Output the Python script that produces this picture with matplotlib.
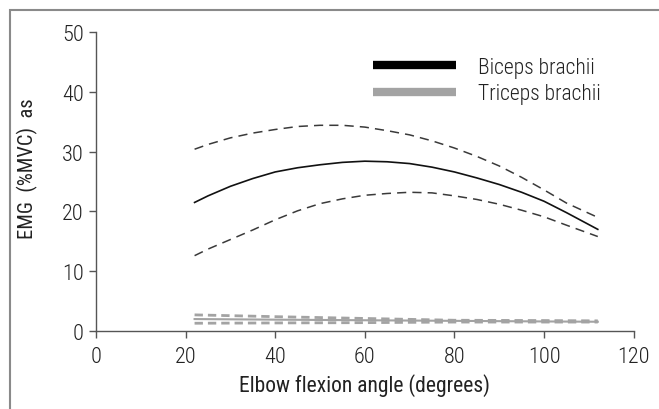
import matplotlib
matplotlib.use("Agg")
import matplotlib.pyplot as plt
from matplotlib.lines import Line2D
from matplotlib.patches import Rectangle

plt.rcParams['font.family'] = ['Roboto Condensed', 'DejaVu Sans']
plt.rcParams['font.weight'] = 'light'

angle = [22, 25, 30, 35, 40, 45, 50, 55, 60, 65, 70, 75, 80, 85, 90, 95, 100, 105, 112]
biceps_mean = [21.5, 22.6, 24.2, 25.5, 26.6, 27.3, 27.8, 28.2, 28.4, 28.3, 28.0, 27.4,
               26.6, 25.6, 24.5, 23.2, 21.7, 19.8, 17.0]
biceps_upper = [30.4, 31.2, 32.3, 33.1, 33.7, 34.2, 34.4, 34.4, 34.1, 33.5, 32.8, 31.8,
                30.6, 29.2, 27.6, 25.7, 23.6, 21.4, 19.0]
biceps_lower = [12.6, 13.7, 15.3, 16.9, 18.6, 20.1, 21.3, 22.1, 22.7, 23.0, 23.2, 23.1,
                22.6, 22.0, 21.2, 20.2, 19.1, 17.7, 15.8]

tri_angle = [22, 40, 60, 80, 100, 112]
triceps_mean = [2.0, 1.9, 1.8, 1.7, 1.6, 1.55]
triceps_upper = [2.7, 2.4, 2.1, 1.8, 1.75, 1.7]
triceps_lower = [1.3, 1.35, 1.4, 1.5, 1.5, 1.5]

xticks = [0, 20, 40, 60, 80, 100, 120]
yticks = [0, 10, 20, 30, 40, 50]
legend_labels = ["Biceps brachii", "Triceps brachii"]

fig = plt.figure(figsize=(6.59, 4.10), dpi=100)
ax = fig.add_axes([0.1457, 0.1902, 0.8158, 0.7293])

tri_col = '#a3a3a3'
ax.plot(tri_angle, triceps_upper, color=tri_col, lw=2, dashes=(3, 1.8))
ax.plot(tri_angle, triceps_lower, color=tri_col, lw=2, dashes=(3, 1.8))
ax.plot(tri_angle, triceps_mean, color=tri_col, lw=1.5)

ax.plot(angle, biceps_upper, color='#3a3a3a', lw=1.1, dashes=(6, 4))
ax.plot(angle, biceps_lower, color='#3a3a3a', lw=1.1, dashes=(6, 4))
ax.plot(angle, biceps_mean, color='#111111', lw=1.2)

ax.set_xlim(0, 120)
ax.set_ylim(0, 50)
ax.set_xticks(xticks)
ax.set_yticks(yticks)
for s in ['top', 'right']:
    ax.spines[s].set_visible(False)
for s in ['left', 'bottom']:
    ax.spines[s].set_color('#555555')
    ax.spines[s].set_linewidth(1.0)
ax.tick_params(axis='both', direction='out', length=5, width=1.0, color='#555555',
               labelsize=16, labelcolor='#222222')
ax.tick_params(axis='x', pad=6)
ax.tick_params(axis='y', pad=4)

ax.set_xlabel("Elbow flexion angle (degrees)", fontsize=15.5, color='#222222', labelpad=4)
ax.set_ylabel("EMG  (%MVC)  as", fontsize=14.8, color='#222222')
ax.yaxis.set_label_coords(-0.108, 0.545)

handles = [Line2D([], [], color='black', lw=6, solid_capstyle='butt'),
           Line2D([], [], color=tri_col, lw=6, solid_capstyle='butt')]
ax.legend(handles, legend_labels, loc='upper left', bbox_to_anchor=(0.479, 0.982),
          frameon=False, fontsize=15.5, handlelength=3.86, handletextpad=1.0,
          labelspacing=0.26, labelcolor='#222222')

fig.add_artist(Rectangle((9.5 / 659, -0.1), 1.2, 1 - 10.5 / 410 + 0.1,
                         transform=fig.transFigure, fill=False,
                         edgecolor='#8a8a8a', lw=1.5, clip_on=False))

fig.savefig("out.png", dpi=100)
